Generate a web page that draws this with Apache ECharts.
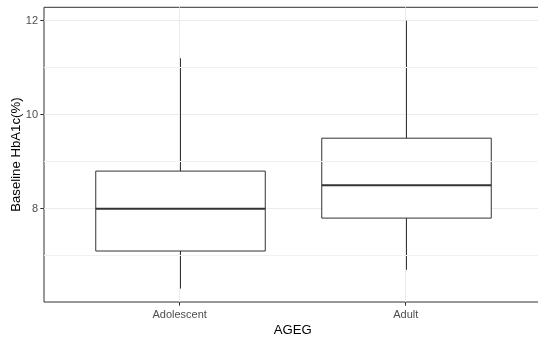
<!DOCTYPE html>
<html>
<head>
<meta charset="utf-8">
<script src="https://cdn.jsdelivr.net/npm/echarts@6/dist/echarts.min.js"></script>
<style>html,body{margin:0;padding:0;background:#fff}#c{width:538px;height:342px}</style>
</head>
<body>
<div id="c"></div>
<script>
var categories = ['Adolescent', 'Adult'];
var lowerWhisker = [6.3, 6.7];
var q1 = [7.1, 7.8];
var median = [8.0, 8.5];
var q3 = [8.8, 9.5];
var upperWhisker = [11.2, 12.0];
var yTicks = [8, 10, 12];
var yMinorGrid = [7, 9, 11];
var xPositions = [1, 2];
var yTitle = 'Baseline HbA1c(%)';
var xTitle = 'AGEG';

var yMin = 6.015, yMax = 12.285;
var FONT = 'Liberation Sans, Arial, sans-serif';

var boxData = categories.map(function (c, i) {
  return [i, lowerWhisker[i], q1[i], median[i], q3[i], upperWhisker[i]];
});

var chart = echarts.init(document.getElementById('c'), null, {renderer: 'canvas'});
var panel = {left: 44, top: 7.3, width: 497.4, height: 294.7};
var boxGrid = {left: 66.7, top: 7.3, width: 452, height: 294.7};

function renderBox(params, api) {
  var x = api.value(0);
  var pLo = api.coord([x, api.value(1)]);
  var pQ1 = api.coord([x, api.value(2)]);
  var pMed = api.coord([x, api.value(3)]);
  var pQ3 = api.coord([x, api.value(4)]);
  var pHi = api.coord([x, api.value(5)]);
  var bw = api.size([1, 0])[0] * 0.75;
  var cx = Math.round(pMed[0]) + 0.5;
  var l = cx - bw / 2, r = cx + bw / 2;
  var stroke = {stroke: '#333333', lineWidth: 1, fill: null};
  return {
    type: 'group',
    children: [
      {type: 'line', shape: {x1: cx, y1: pQ3[1], x2: cx, y2: pHi[1]}, style: stroke},
      {type: 'line', shape: {x1: cx, y1: pQ1[1], x2: cx, y2: pLo[1]}, style: stroke},
      {type: 'rect', shape: {x: l, y: pQ3[1], width: bw, height: pQ1[1] - pQ3[1]},
        style: {fill: '#ffffff', stroke: '#333333', lineWidth: 1}},
      {type: 'line', shape: {x1: l, y1: pMed[1], x2: r, y2: pMed[1]},
        style: {stroke: '#333333', lineWidth: 2}}
    ]
  };
}

chart.setOption({
  animation: false,
  backgroundColor: '#ffffff',
  grid: [
    Object.assign({show: true, borderColor: '#333333', borderWidth: 1, backgroundColor: '#ffffff', outerBoundsMode: 'none', containLabel: false}, panel),
    Object.assign({outerBoundsMode: 'none', containLabel: false}, boxGrid)
  ],
  xAxis: [
    {
      type: 'value', gridIndex: 0, min: 0.4, max: 2.6,
      name: xTitle, nameLocation: 'middle', nameGap: 22, nameMoveOverlap: false,
      nameTextStyle: {fontFamily: FONT, fontSize: 13.2, color: '#000000'},
      axisLine: {show: false},
      axisTick: {show: true, length: 3.7, customValues: xPositions, lineStyle: {color: '#333333', width: 1}},
      axisLabel: {show: true, customValues: xPositions, margin: 7, fontFamily: FONT, fontSize: 11, color: '#4d4d4d',
        formatter: function (v) { return categories[Math.round(v) - 1] || ''; }},
      splitLine: {show: true, lineStyle: {color: '#ebebeb', width: 1}}
    },
    {type: 'category', gridIndex: 1, data: categories, boundaryGap: true, show: false}
  ],
  yAxis: [
    {
      type: 'value', gridIndex: 0, min: yMin, max: yMax,
      name: yTitle, nameLocation: 'middle', nameGap: 21, nameMoveOverlap: false,
      nameTextStyle: {fontFamily: FONT, fontSize: 13.2, color: '#000000'},
      axisLine: {show: false},
      axisTick: {show: true, length: 3.7, customValues: yTicks, lineStyle: {color: '#333333', width: 1}},
      axisLabel: {show: true, customValues: yTicks, margin: 6, fontFamily: FONT, fontSize: 11, color: '#4d4d4d'},
      splitLine: {show: true, lineStyle: {color: '#ebebeb', width: 1}}
    },
    {type: 'value', gridIndex: 1, min: yMin, max: yMax, show: false}
  ],
  series: [
    {
      type: 'scatter', xAxisIndex: 0, yAxisIndex: 0, data: [], silent: true,
      markLine: {
        silent: true, symbol: ['none', 'none'], label: {show: false},
        lineStyle: {color: '#f1f1f1', width: 1, type: 'solid'},
        emphasis: {disabled: true},
        data: yMinorGrid.map(function (v) { return {yAxis: v}; })
      }
    },
    {
      type: 'custom', xAxisIndex: 1, yAxisIndex: 1, data: boxData,
      renderItem: renderBox, silent: true, z: 3,
      encode: {x: 0, y: [1, 2, 3, 4, 5]}
    }
  ]
});
</script>
</body>
</html>
